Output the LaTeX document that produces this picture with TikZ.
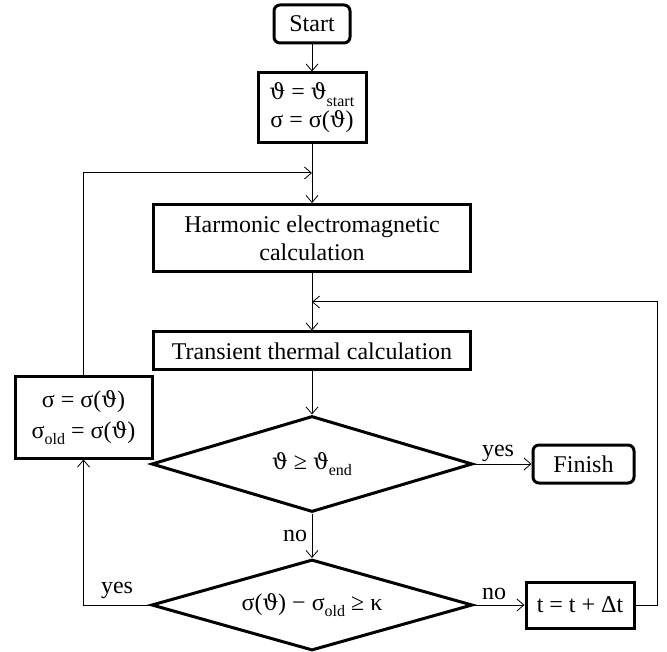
\documentclass[tikz,border=0pt]{standalone}
\usepackage{fontspec}
\setmainfont{Liberation Serif}
\newfontfamily\dvs{DejaVu Serif}
\usetikzlibrary{shapes.geometric,arrows.meta}
\newcommand\thv{{\dvs\fontsize{22}{22}\selectfont ϑ}}
\newcommand\sbs[1]{\raisebox{-0.6ex}{\fontsize{16}{16}\selectfont #1}}
\begin{document}
\begin{tikzpicture}[x=1pt,y=-1pt,
  font=\fontsize{24}{28}\selectfont,
  box/.style={draw,line width=3pt,align=center,inner sep=0pt},
  rbox/.style={box,rounded corners=6pt},
  dec/.style={draw,line width=3pt,shape=diamond,aspect=3.5,inner sep=0pt},
  link/.style={line width=1pt,-{Straight Barb[length=7pt,width=12pt,line width=0.8pt]}},
  lbl/.style={inner sep=0pt,anchor=base}]
\useasboundingbox (0,0) rectangle (667,652);
\node[rbox,minimum width=76pt,minimum height=38pt] (start) at (312,24) {Start};
\node[box,minimum width=108pt,minimum height=70pt] (init) at (312,108) {\thv{} = \thv\sbs{start}\\σ = σ(\thv)};
\node[box,minimum width=317pt,minimum height=67pt] (harm) at (312,238) {Harmonic electromagnetic\\calculation};
\node[box,minimum width=317pt,minimum height=38pt] (trans) at (312,351) {Transient thermal calculation};
\node[dec,minimum width=321pt,minimum height=96pt] (dec1) at (312,464) {\thv{} ≥ \thv\sbs{end}};
\node[rbox,minimum width=101pt,minimum height=38pt] (finish) at (583.5,464) {Finish};
\node[dec,minimum width=321pt,minimum height=91pt] (dec2) at (312,605) {σ(\thv) − σ\sbs{old} ≥ κ};
\node[box,minimum width=108pt,minimum height=46pt] (tbox) at (580,605) {t = t + Δt};
\node[box,minimum width=137pt,minimum height=81pt] (sbox) at (83.5,417.5) {σ = σ(\thv)\\[3pt]σ\sbs{old} = σ(\thv)};
\coordinate (j1) at (312,173);
\coordinate (j2) at (312,302);
\coordinate (r1) at (657,605);
\draw[link] (start) -- (init);
\draw[link] (init) -- (harm);
\draw[link] (sbox.north) |- (j1);
\draw[link] (harm) -- (trans);
\draw[link] (tbox.east) -- (r1) |- (j2);
\draw[link] (trans) -- (dec1);
\draw[link] (dec1.east) -- (finish.west);
\draw[link] (dec1.south) -- (dec2.north);
\draw[link] (dec2.east) -- (tbox.west);
\draw[link] (dec2.west) -| (sbox.south);
\node[lbl] (ly1) at (498,456) {yes};
\node[lbl] (ln1) at (295,541) {no};
\node[lbl] (ly2) at (117,593) {yes};
\node[lbl] (ln2) at (494,599) {no};
\end{tikzpicture}
\end{document}
